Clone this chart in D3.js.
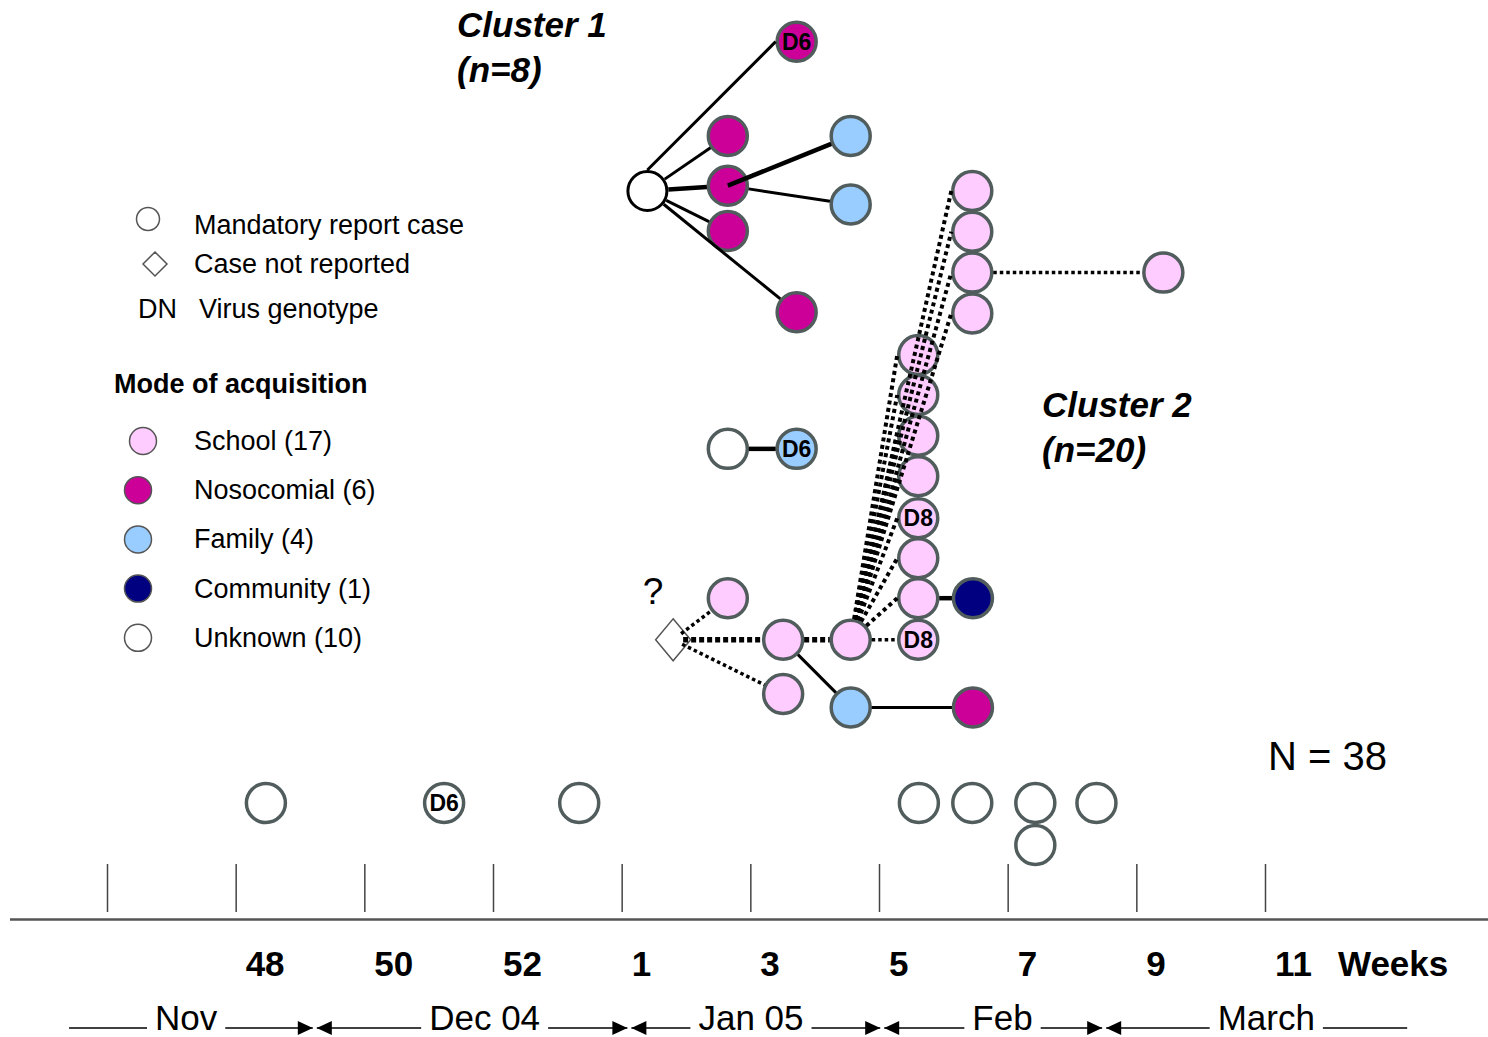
<!DOCTYPE html>
<html>
<head>
<meta charset="utf-8">
<script src="https://cdn.jsdelivr.net/npm/d3@7"></script>
<style>
    body { margin: 0; background: #fff; }
    text { font-family: "Liberation Sans", Arial, sans-serif; fill: #000; }
</style>
</head>
<body>
<div id="chart"></div>
<script>
const width = 1488;
const height = 1037;

// week index 0 = ISO week 46 of 2004, one unit per week
const weekTicks = [0, 2, 4, 6, 8, 10, 12, 14, 16, 18];
const weekLabels = [
    { at: 2, text: "48" }, { at: 4, text: "50" }, { at: 6, text: "52" },
    { at: 8, text: "1" }, { at: 10, text: "3" }, { at: 12, text: "5" },
    { at: 14, text: "7" }, { at: 16, text: "9" }, { at: 18, text: "11" }
];
const months = [
    { name: "Nov", from: -0.59, to: 3.23, at: 1.23 },
    { name: "Dec 04", from: 3.23, to: 8.12, at: 5.87 },
    { name: "Jan 05", from: 8.12, to: 12.05, at: 10.01 },
    { name: "Feb", from: 12.05, to: 15.5, at: 13.92 },
    { name: "March", from: 15.5, to: 20.21, at: 18.02 }
];

const modes = ["school", "noso", "family", "community", "unknown"];
const modeColors = ["#ffccff", "#cc0099", "#99ccff", "#000080", "#ffffff"];
const modeLabels = ["School (17)", "Nosocomial (6)", "Family (4)", "Community (1)", "Unknown (10)"];

// week = onset position on the week axis, row = vertical slot
const cluster1 = [
    { id: "c1_idx", week: 8.40, row: 0, mode: "unknown", index: true },
    { id: "c1_d6", week: 10.72, row: -3.66, mode: "noso", geno: "D6" },
    { id: "c1_n1", week: 9.65, row: -1.35, mode: "noso" },
    { id: "c1_n2", week: 9.65, row: -0.13, mode: "noso" },
    { id: "c1_n3", week: 9.65, row: 0.98, mode: "noso" },
    { id: "c1_n4", week: 10.72, row: 2.97, mode: "noso" },
    { id: "c1_f1", week: 11.56, row: -1.35, mode: "family" },
    { id: "c1_f2", week: 11.56, row: 0.33, mode: "family" }
];

const pairCases = [
    { id: "p_u", week: 9.65, row: 6.32, mode: "unknown" },
    { id: "p_f", week: 10.72, row: 6.32, mode: "family", geno: "D6" }
];

const cluster2 = [
    { id: "c2_dia", week: 8.80, row: 11, mode: "unknown", notReported: true },
    { id: "c2_a", week: 9.65, row: 9.98, mode: "school" },
    { id: "c2_b", week: 10.51, row: 11, mode: "school" },
    { id: "c2_c", week: 10.51, row: 12.33, mode: "school" },
    { id: "c2_idx", week: 11.56, row: 11, mode: "school" },
    { id: "c2_fam", week: 11.56, row: 12.66, mode: "family" },
    { id: "c2_noso", week: 13.46, row: 12.66, mode: "noso" },
    { id: "c2_s1", week: 12.61, row: 4.02, mode: "school" },
    { id: "c2_s2", week: 12.61, row: 5, mode: "school" },
    { id: "c2_s3", week: 12.61, row: 6, mode: "school" },
    { id: "c2_s4", week: 12.61, row: 6.99, mode: "school" },
    { id: "c2_s5", week: 12.61, row: 8.02, mode: "school", geno: "D8" },
    { id: "c2_s6", week: 12.61, row: 9, mode: "school" },
    { id: "c2_s7", week: 12.61, row: 9.98, mode: "school" },
    { id: "c2_s8", week: 12.61, row: 11, mode: "school", geno: "D8" },
    { id: "c2_com", week: 13.46, row: 9.98, mode: "community" },
    { id: "c2_t1", week: 13.45, row: 0, mode: "school" },
    { id: "c2_t2", week: 13.45, row: 1, mode: "school" },
    { id: "c2_t3", week: 13.45, row: 2, mode: "school" },
    { id: "c2_t4", week: 13.45, row: 3, mode: "school" },
    { id: "c2_far", week: 16.42, row: 2, mode: "school" }
];

const sporadic = [
    { id: "s1", week: 2.47, row: 15, mode: "unknown" },
    { id: "s2", week: 5.24, row: 15, mode: "unknown", geno: "D6" },
    { id: "s3", week: 7.34, row: 15, mode: "unknown" },
    { id: "s4", week: 12.62, row: 15, mode: "unknown" },
    { id: "s5", week: 13.45, row: 15, mode: "unknown" },
    { id: "s6", week: 14.43, row: 15, mode: "unknown" },
    { id: "s7", week: 14.43, row: 16.03, mode: "unknown" },
    { id: "s8", week: 15.38, row: 15, mode: "unknown" }
];

const links = [
    { source: "c1_idx", target: "c1_d6", kind: "solid", from: "n", to: "w" },
    { source: "c1_idx", target: "c1_n1", kind: "solid" },
    { source: "c1_idx", target: "c1_n2", kind: "thick" },
    { source: "c1_idx", target: "c1_n3", kind: "solid" },
    { source: "c1_idx", target: "c1_n4", kind: "solid" },
    { source: "c1_n2", target: "c1_f1", kind: "thick", from: "c" },
    { source: "c1_n2", target: "c1_f2", kind: "solid" },
    { source: "p_u", target: "p_f", kind: "thick" },
    { source: "c2_dia", target: "c2_a", kind: "dot" },
    { source: "c2_dia", target: "c2_b", kind: "dotThick" },
    { source: "c2_dia", target: "c2_c", kind: "dot" },
    { source: "c2_b", target: "c2_idx", kind: "dotThick" },
    { source: "c2_b", target: "c2_fam", kind: "solid" },
    { source: "c2_fam", target: "c2_noso", kind: "solid" },
    { source: "c2_idx", target: "c2_s1", kind: "fan", to: "w" },
    { source: "c2_idx", target: "c2_s2", kind: "fan", to: "w" },
    { source: "c2_idx", target: "c2_s3", kind: "fan", to: "w" },
    { source: "c2_idx", target: "c2_s4", kind: "fan", to: "w" },
    { source: "c2_idx", target: "c2_s5", kind: "fan", to: "w" },
    { source: "c2_idx", target: "c2_s6", kind: "fan", to: "w" },
    { source: "c2_idx", target: "c2_s7", kind: "fan", to: "w" },
    { source: "c2_idx", target: "c2_s8", kind: "dot" },
    { source: "c2_idx", target: "c2_t1", kind: "fan", to: "w" },
    { source: "c2_idx", target: "c2_t2", kind: "fan", to: "w" },
    { source: "c2_idx", target: "c2_t3", kind: "fan", to: "w" },
    { source: "c2_idx", target: "c2_t4", kind: "fan", to: "w" },
    { source: "c2_s7", target: "c2_com", kind: "thick" },
    { source: "c2_t3", target: "c2_far", kind: "dot" }
];

const linkStyles = {
    solid: { w: 3, dash: null },
    thick: { w: 4.5, dash: null },
    dot: { w: 3.5, dash: "3.5,3" },
    dotThick: { w: 5.5, dash: "5,3" },
    fan: { w: 4, dash: "4,3.5" }
};

const svg = d3.select("#chart")
    .append("svg")
    .attr("width", width)
    .attr("height", height);

const x = d3.scaleLinear().domain([0, 18]).range([107, 1265]);
const y = d3.scaleLinear().domain([0, 16]).range([191, 843.8]);
const color = d3.scaleOrdinal().domain(modes).range(modeColors);

const nodeR = 19.5;
const edgeR = 21;
const strokeGrey = "#515c5c";

// week axis
const axisG = svg.append("g")
    .attr("transform", "translate(0,912)")
    .call(d3.axisTop(x).tickValues(weekTicks).tickSize(48).tickFormat(""));
axisG.select(".domain").remove();
axisG.selectAll(".tick line").attr("stroke", "#444").attr("stroke-width", 1.5);

svg.append("line")
    .attr("x1", 10).attr("x2", width)
    .attr("y1", 919.5).attr("y2", 919.5)
    .attr("stroke", "#555").attr("stroke-width", 2.5);

svg.append("g")
    .selectAll("text")
    .data(weekLabels)
    .join("text")
    .attr("x", d => x(d.at) + 10)
    .attr("y", 976)
    .style("font-size", "35px")
    .style("font-weight", "bold")
    .text(d => d.text);

svg.append("text")
    .attr("x", x(18) + 73)
    .attr("y", 976)
    .style("font-size", "35px")
    .style("font-weight", "bold")
    .text("Weeks");

// months with arrows
const monthY = 1028;
const monthG = svg.append("g");
months.forEach((m, i) => {
    const t = monthG.append("text")
        .attr("x", x(m.at))
        .attr("y", 1030)
        .attr("text-anchor", "middle")
        .style("font-size", "35px")
        .text(m.name);
    const tw = t.node().getComputedTextLength();
    const left = x(m.at) - tw / 2 - 8;
    const right = x(m.at) + tw / 2 + 8;
    const x0 = x(m.from) + (i > 0 ? 2 : 0);
    const x1 = x(m.to) - (i < months.length - 1 ? 2 : 0);
    monthG.append("line")
        .attr("x1", x0).attr("x2", left)
        .attr("y1", monthY).attr("y2", monthY)
        .attr("stroke", "#000").attr("stroke-width", 1.5);
    monthG.append("line")
        .attr("x1", right).attr("x2", x1)
        .attr("y1", monthY).attr("y2", monthY)
        .attr("stroke", "#000").attr("stroke-width", 1.5);
    if (i > 0) {
        monthG.append("path")
            .attr("d", `M${x0},${monthY} l15,-7 l0,14 Z`)
            .attr("fill", "#000");
    }
    if (i < months.length - 1) {
        monthG.append("path")
            .attr("d", `M${x1},${monthY} l-15,-7 l0,14 Z`)
            .attr("fill", "#000");
    }
});

// cases
const cases = [...cluster1, ...pairCases, ...cluster2, ...sporadic];
const byId = new Map(cases.map(d => [d.id, d]));

const nodeG = svg.append("g");
nodeG.selectAll("circle")
    .data(cases.filter(d => !d.notReported))
    .join("circle")
    .attr("cx", d => x(d.week))
    .attr("cy", d => y(d.row))
    .attr("r", nodeR)
    .attr("fill", d => color(d.mode))
    .attr("stroke", d => d.index ? "#000" : strokeGrey)
    .attr("stroke-width", d => d.index ? 3 : 3.5);

nodeG.selectAll("path")
    .data(cases.filter(d => d.notReported))
    .join("path")
    .attr("d", d => {
        const cx = x(d.week), cy = y(d.row);
        return `M${cx},${cy - 21} L${cx + 17.5},${cy} L${cx},${cy + 21} L${cx - 17.5},${cy} Z`;
    })
    .attr("fill", "#fff")
    .attr("stroke", "#555")
    .attr("stroke-width", 1.5);

function anchor(n, a) {
    const cx = x(n.week), cy = y(n.row);
    if (a === "n") return [cx, cy - edgeR];
    if (a === "w") return [cx - edgeR, cy];
    return [cx, cy];
}

function trim(p, q, r) {
    const dx = q[0] - p[0], dy = q[1] - p[1];
    const len = Math.hypot(dx, dy);
    return [p[0] + dx / len * r, p[1] + dy / len * r];
}

const linkData = links.map(l => {
    const s = byId.get(l.source), t = byId.get(l.target);
    let p1 = anchor(s, l.from);
    let p2 = anchor(t, l.to);
    if (!l.from) p1 = trim(p1, p2, s.notReported ? 10 : edgeR);
    if (!l.to) p2 = trim(p2, p1, t.notReported ? 10 : edgeR);
    return { p1, p2, style: linkStyles[l.kind] };
});

svg.append("g")
    .selectAll("line")
    .data(linkData)
    .join("line")
    .attr("x1", d => d.p1[0])
    .attr("y1", d => d.p1[1])
    .attr("x2", d => d.p2[0])
    .attr("y2", d => d.p2[1])
    .attr("stroke", "#000")
    .attr("stroke-width", d => d.style.w)
    .attr("stroke-dasharray", d => d.style.dash);

// genotype labels
svg.append("g")
    .selectAll("text")
    .data(cases.filter(d => d.geno))
    .join("text")
    .attr("x", d => x(d.week))
    .attr("y", d => y(d.row))
    .attr("dy", "0.36em")
    .attr("text-anchor", "middle")
    .style("font-size", "23px")
    .style("font-weight", "bold")
    .text(d => d.geno);

const dia = byId.get("c2_dia");
svg.append("text")
    .attr("x", x(dia.week) - 20)
    .attr("y", y(dia.row) - 36)
    .attr("text-anchor", "middle")
    .style("font-size", "37px")
    .text("?");

// titles
const titles = [
    { x: 457, y: 37, text: "Cluster 1" },
    { x: 457, y: 82, text: "(n=8)" },
    { x: 1042, y: 417, text: "Cluster 2" },
    { x: 1042, y: 462, text: "(n=20)" }
];
svg.append("g")
    .selectAll("text")
    .data(titles)
    .join("text")
    .attr("x", d => d.x)
    .attr("y", d => d.y)
    .style("font-size", "35px")
    .style("font-weight", "bold")
    .style("font-style", "italic")
    .text(d => d.text);

svg.append("text")
    .attr("x", 1268)
    .attr("y", 770)
    .style("font-size", "40px")
    .text("N = 38");

// legend
const leg = svg.append("g");
leg.append("circle")
    .attr("cx", 148).attr("cy", 219).attr("r", 11.5)
    .attr("fill", "#fff").attr("stroke", "#555").attr("stroke-width", 1.5);
leg.append("text").attr("x", 194).attr("y", 234).style("font-size", "27px").text("Mandatory report case");
leg.append("path")
    .attr("d", "M155,252 L167,264 L155,276 L143,264 Z")
    .attr("fill", "#fff").attr("stroke", "#555").attr("stroke-width", 1.5);
leg.append("text").attr("x", 194).attr("y", 273).style("font-size", "27px").text("Case not reported");
leg.append("text").attr("x", 138).attr("y", 318).style("font-size", "27px").text("DN");
leg.append("text").attr("x", 199).attr("y", 318).style("font-size", "27px").text("Virus genotype");
leg.append("text").attr("x", 114).attr("y", 393)
    .style("font-size", "27px").style("font-weight", "bold").text("Mode of acquisition");

const legItems = leg.selectAll("g.item")
    .data(modes)
    .join("g")
    .attr("class", "item")
    .attr("transform", (d, i) => `translate(0,${450 + i * 49.2})`);
legItems.append("circle")
    .attr("cx", (d, i) => i === 0 ? 143 : 138)
    .attr("cy", -9)
    .attr("r", 13.5)
    .attr("fill", d => color(d))
    .attr("stroke", "#555")
    .attr("stroke-width", 1.5);
legItems.append("text")
    .attr("x", 194)
    .attr("y", 0)
    .style("font-size", "27px")
    .text((d, i) => modeLabels[i]);
</script>
</body>
</html>
